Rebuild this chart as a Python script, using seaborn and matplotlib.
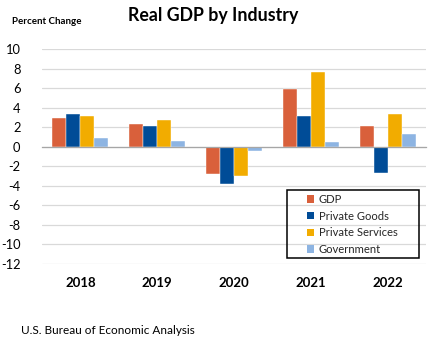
import matplotlib
matplotlib.use("Agg")
import matplotlib.pyplot as plt
import matplotlib.transforms as mtransforms
from matplotlib.patches import Rectangle, Patch
import seaborn as sns
import pandas as pd

years = ["2018", "2019", "2020", "2021", "2022"]
series = ["GDP", "Private Goods", "Private Services", "Government"]
gdp = [2.9, 2.3, -2.8, 5.9, 2.1]
private_goods = [3.4, 2.1, -3.8, 3.1, -2.7]
private_services = [3.1, 2.7, -3.0, 7.6, 3.4]
government = [0.9, 0.6, -0.4, 0.5, 1.3]
colors = ["#D9603B", "#004C97", "#F2AC00", "#8DB4E2"]
yticks = list(range(-12, 11, 2))

rows = []
for name, vals in zip(series, [gdp, private_goods, private_services, government]):
    for y, v in zip(years, vals):
        rows.append({"year": y, "series": name, "value": v})
df = pd.DataFrame(rows)

sns.set_theme(style="white")
plt.rcParams["font.family"] = ["Lato", "DejaVu Sans"]

W, H = 444, 343
fig = plt.figure(figsize=(W / 100, H / 100), dpi=100)
ax = fig.add_axes([42 / W, 1 - 264 / H, (426 - 42) / W, (264 - 49) / H])

sns.barplot(data=df, x="year", y="value", hue="series", hue_order=series,
            order=years, palette=colors, width=0.73, gap=0, saturation=1,
            legend=False, ax=ax, edgecolor="white", linewidth=0.3)

ax.set_ylim(-12, 10)
ax.set_xlim(-0.5, 4.5)
ax.set_yticks(yticks)
ax.set_yticklabels([str(t) for t in yticks], fontsize=9.3, color="#000000")
ax.yaxis.grid(True, color="#D9D9D9", linewidth=0.9)
ax.set_axisbelow(True)
for s in ["top", "right", "left"]:
    ax.spines[s].set_visible(False)
ax.spines["bottom"].set_position(("data", 0))
ax.spines["bottom"].set_color("#A6A6A6")
ax.spines["bottom"].set_linewidth(0.9)
ax.tick_params(axis="y", length=0, pad=15.5)
ax.set_xticks([i - 0.5 for i in range(len(years) + 1)])
ax.set_xticklabels([])
ax.tick_params(axis="x", length=4, color="#A6A6A6", width=0.9, direction="out")
ax.set_xlabel("")
ax.set_ylabel("")

trans = mtransforms.blended_transform_factory(ax.transData, ax.transAxes)
for i, y in enumerate(years):
    ax.text(i, -0.088, y, transform=trans, ha="center", va="center",
            fontsize=9.5, fontweight="bold", color="#000000")

fig.text(213 / W, 1 - 15 / H, "Real GDP by Industry", ha="center", va="center",
         fontsize=12.8, fontweight="bold", color="#000000")
fig.text(12 / W, 1 - 21 / H, "Percent Change", ha="left", va="center",
         fontsize=7, fontweight="bold", color="#000000")
fig.text(21 / W, 1 - 331 / H, "U.S. Bureau of Economic Analysis", ha="left",
         va="center", fontsize=8.5, color="#000000")

# legend
handles = [Patch(facecolor=c, edgecolor="none") for c in colors]
leg = fig.legend(handles, series, loc="upper left",
                 bbox_to_anchor=(307 / W, 1 - 194 / H), frameon=False,
                 fontsize=8.1, handlelength=0.65, handleheight=0.65,
                 handletextpad=0.4, labelspacing=0.5, borderaxespad=0,
                 borderpad=0)
fig.patches.append(Rectangle((287 / W, 1 - 258 / H), (419 - 287) / W,
                             (258 - 190) / H, transform=fig.transFigure,
                             fill=False, edgecolor="#000000", linewidth=1.1))

fig.savefig("out.png", dpi=100)
